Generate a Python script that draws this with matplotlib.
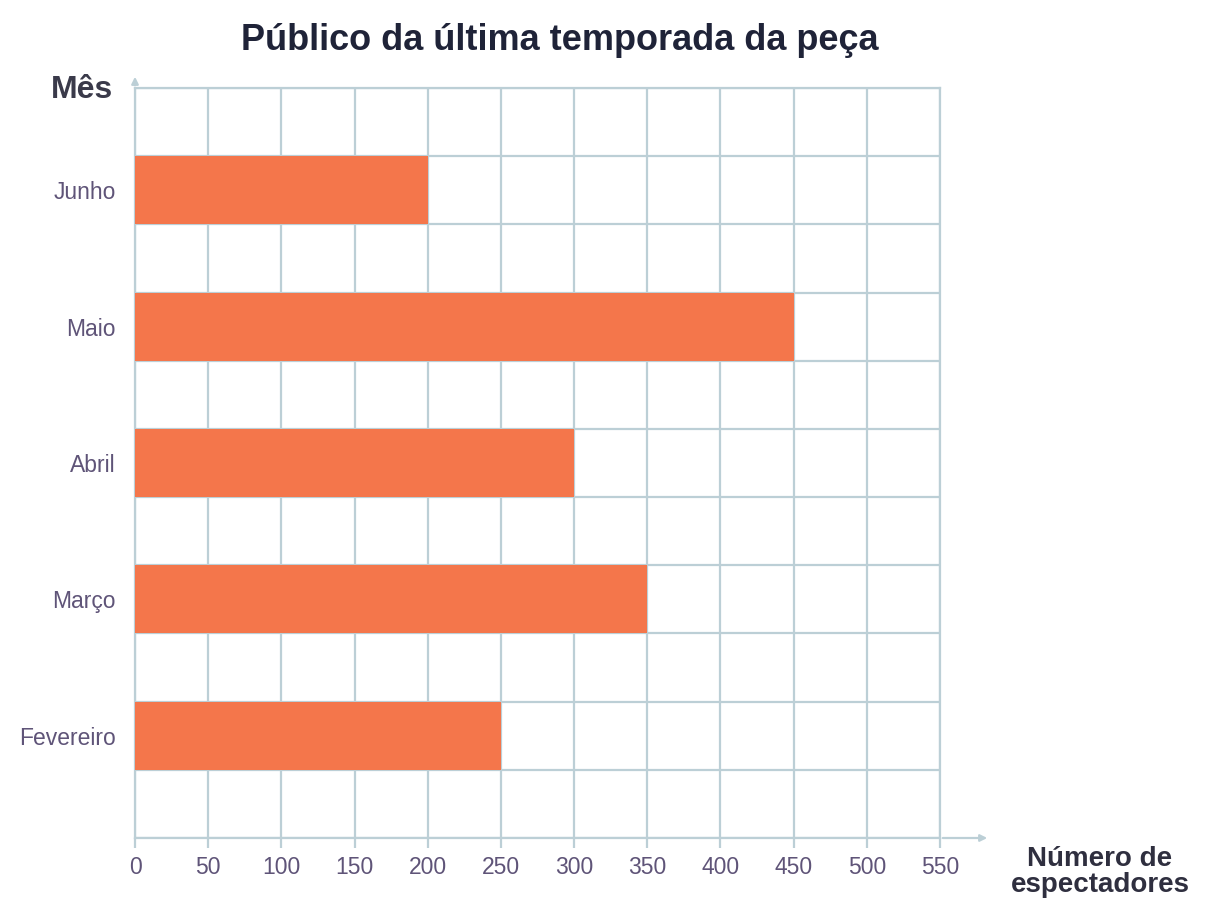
import numpy as np
import matplotlib.pyplot as plt

meses = ["Fevereiro", "Março", "Abril", "Maio", "Junho"]
publico = [250, 350, 300, 450, 200]
x_ticks = list(range(0, 551, 50))

cor_barra = "#f4764b"
cor_grade = "#bccfd6"
cor_texto = "#5f5478"
cor_titulo = "#1f2338"

fig = plt.figure(figsize=(12.06, 9.05), dpi=100)
ax = fig.add_axes([135/1206, 1-838/905, (940-135)/1206, (838-88)/905])

pos = np.arange(len(meses)) * 2 + 1.5
ax.barh(pos, publico, height=1.0, color=cor_barra, zorder=3)

ax.set_xlim(0, 550)
ax.set_ylim(0, 11)
ax.set_xticks(x_ticks)
ax.set_xticklabels([str(v) for v in x_ticks], fontsize=16.5, color=cor_texto,
                   family="Liberation Sans")
ax.set_yticks(pos)
ax.set_yticklabels(meses, fontsize=16.5, color=cor_texto, family="Liberation Sans")
ax.set_yticks(np.arange(0, 12), minor=True)

ax.grid(axis="x", which="major", color=cor_grade, linewidth=1.6, zorder=1)
ax.grid(axis="y", which="minor", color=cor_grade, linewidth=1.6, zorder=1)
ax.tick_params(axis="x", length=7, width=1.6, color=cor_grade, pad=6)
ax.tick_params(axis="y", which="both", length=0, pad=14)
for s in ax.spines.values():
    s.set_color(cor_grade)
    s.set_linewidth(1.6)
ax.set_axisbelow(True)

# setas dos eixos
ax.annotate("", xy=(990/1206, 1-838/905), xytext=(940/1206, 1-838/905),
            xycoords="figure fraction",
            arrowprops=dict(arrowstyle="-|>", color=cor_grade, lw=1.6, mutation_scale=10))
ax.annotate("", xy=(135/1206, 1-74/905), xytext=(135/1206, 1-88/905),
            xycoords="figure fraction",
            arrowprops=dict(arrowstyle="-|>", color=cor_grade, lw=1.6, mutation_scale=10))

fig.text(560/1206, 1-40/905, "Público da última temporada da peça", ha="center", va="center",
         fontsize=26, fontweight="bold", color=cor_titulo, family="Liberation Sans")
fig.text(113/1206, 1-90/905, "Mês", ha="right", va="center",
         fontsize=23, fontweight="bold", color="#3a3a4a", family="Liberation Sans")
fig.text(1100/1206, 1-872/905, "Número de\nespectadores", ha="center", va="center",
         fontsize=20, fontweight="bold", color="#2f2f3f", family="Liberation Sans",
         linespacing=1.0)

fig.savefig("out.png", dpi=100)
